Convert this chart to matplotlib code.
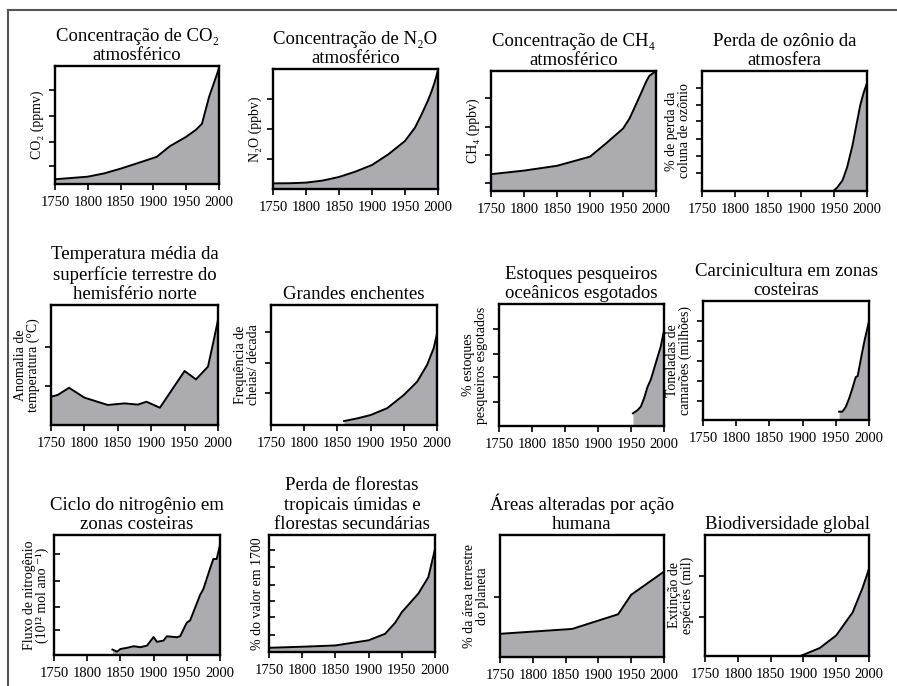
import matplotlib
matplotlib.use("Agg")
import matplotlib.pyplot as plt
from matplotlib.lines import Line2D

plt.rcParams['font.family'] = ['Liberation Serif', 'DejaVu Serif']

W, H = 897, 686

# ---------------- data (values in % of panel height) ----------------
co2_years = [1750, 1800, 1825, 1850, 1875, 1905, 1925, 1950, 1965, 1974, 1985, 2000]
co2_vals = [4, 6.2, 9, 13, 17.5, 23, 32, 40, 46, 51, 74, 98]
co2_ticks = [15, 36, 58, 80]

n2o_years = [1750, 1775, 1800, 1825, 1850, 1875, 1900, 1925, 1950, 1965, 1975, 1985, 1990, 1995, 2000]
n2o_vals = [4.7, 4.8, 5.3, 7, 10, 14.5, 20, 29, 40, 51, 62, 74, 81, 89, 99]
n2o_ticks = [25, 50, 75]

ch4_years = [1750, 1800, 1850, 1900, 1925, 1950, 1960, 1975, 1985, 1990, 2000]
ch4_vals = [14, 17, 21, 28.6, 40, 52, 60.5, 78.6, 91, 96, 100]
ch4_ticks = [6.4, 30, 53.6, 77.8]

oz_years = [1949, 1955, 1963, 1970, 1978, 1985, 1990, 1995, 2000]
oz_vals = [0, 3, 9, 20, 38, 58, 72, 82, 90]
oz_ticks = [15, 29, 43, 58, 72, 86]

temp_years = [1750, 1760, 1777, 1800, 1835, 1860, 1880, 1893, 1913, 1950, 1967, 1985, 1993, 2000]
temp_vals = [23.6, 25, 31, 22.8, 16.7, 18, 17, 19.4, 14.4, 45, 38, 48.6, 69, 87.5]
temp_ticks = [32.8, 64.7]

flood_years = [1860, 1880, 1900, 1925, 1950, 1970, 1985, 1995, 2000]
flood_vals = [3.3, 5.5, 8.3, 14, 25, 36, 50, 64, 76]
flood_ticks = [26.4, 52, 77.8]

fish_years = [1953, 1960, 1965, 1970, 1975, 1980, 1985, 1990, 1995, 2000]
fish_vals = [10.4, 13, 16, 23, 32, 38, 47, 56, 65, 78]
fish_ticks = [20, 40.5, 59, 79.5]

shrimp_years = [1955, 1960, 1965, 1970, 1975, 1980, 1983, 1988, 1993, 2000]
shrimp_vals = [7, 7, 11, 18, 26.6, 36, 37, 52, 66, 83]
shrimp_ticks = [16, 33, 50, 66.7, 83.5]

nitro_years = [1838, 1845, 1850, 1860, 1870, 1880, 1890, 1900, 1905, 1915, 1920,
               1935, 1940, 1950, 1955, 1970, 1975, 1985, 1990, 1995, 2000]
nitro_vals = [4.5, 2.8, 5, 6, 7.3, 6.5, 7.8, 15, 11, 12, 15.6,
              14.8, 15.6, 27, 28.8, 50, 55, 72, 80, 80, 91.6]
nitro_ticks = [20.6, 40, 62, 84]

forest_years = [1750, 1800, 1850, 1900, 1925, 1940, 1950, 1975, 1990, 2000]
forest_vals = [3.6, 4.5, 5.6, 10, 15.6, 25, 34, 50, 64, 88]
forest_ticks = [14.5, 30, 43.6, 57, 72.6, 87]

land_years = [1750, 1860, 1930, 1950, 2000]
land_vals = [19, 23, 35, 51, 70]
land_ticks = [49]

bio_years = [1895, 1900, 1925, 1950, 1975, 1990, 2000]
bio_vals = [0, 1, 6.6, 17, 36, 56, 72]
bio_ticks = [32, 66]

xticks = [1750, 1800, 1850, 1900, 1950, 2000]

titles = [
    "Concentração de CO\u2082\natmosférico",
    "Concentração de N\u2082O\natmosférico",
    "Concentração de CH\u2084\natmosférico",
    "Perda de ozônio da\natmosfera",
    "Temperatura média da\nsuperfície terrestre do\nhemisfério norte",
    "Grandes enchentes",
    "Estoques pesqueiros\noceânicos esgotados",
    "Carcinicultura em zonas\ncosteiras",
    "Ciclo do nitrogênio em\nzonas costeiras",
    "Perda de florestas\ntropicais úmidas e\nflorestas secundárias",
    "Áreas alteradas por ação\nhumana",
    "Biodiversidade global",
]
ylabels = [
    "CO\u2082 (ppmv)",
    "N\u2082O (ppbv)",
    "CH\u2084 (ppbv)",
    "% de perda da\ncoluna de ozônio",
    "Anomalia de\ntemperatura (°C)",
    "Frequência de\ncheias/ década",
    "% estoques\npesqueiros esgotados",
    "Toneladas de\ncamarões (milhões)",
    "Fluxo de nitrogênio\n(10\u00b9\u00b2 mol ano \u207b\u00b9)",
    "% do valor em 1700",
    "% da área terrestre\ndo planeta",
    "Extinção de\nespécies (mil)",
]
series = [
    (co2_years, co2_vals, co2_ticks),
    (n2o_years, n2o_vals, n2o_ticks),
    (ch4_years, ch4_vals, ch4_ticks),
    (oz_years, oz_vals, oz_ticks),
    (temp_years, temp_vals, temp_ticks),
    (flood_years, flood_vals, flood_ticks),
    (fish_years, fish_vals, fish_ticks),
    (shrimp_years, shrimp_vals, shrimp_ticks),
    (nitro_years, nitro_vals, nitro_ticks),
    (forest_years, forest_vals, forest_ticks),
    (land_years, land_vals, land_ticks),
    (bio_years, bio_vals, bio_ticks),
]

# ---------------- layout (pixels: left, right, top, bottom) ----------------
boxes = [
    (55, 219, 66, 184), (273, 438, 69, 189), (491, 656, 71, 191), (702, 867, 71, 191),
    (51, 218, 305, 425), (271, 437, 305, 425), (499, 664, 304, 426), (703, 869, 301, 420),
    (54, 220, 535, 655), (269, 435, 535, 652), (500, 664, 535, 657), (705, 869, 535, 656),
]
ytick_dir = ['out'] * 8 + ['in', 'in', 'out', 'out']

fig = plt.figure(figsize=(W / 100, H / 100), dpi=100)
fill_color = '#ababb0'

for i, ((l, r, t, b), (yrs, vals, yt)) in enumerate(zip(boxes, series)):
    ax = fig.add_axes([l / W, 1 - b / H, (r - l) / W, (b - t) / H])
    ax.fill_between(yrs, vals, 0, color=fill_color, linewidth=0, zorder=1)
    ax.plot(yrs, vals, color='black', linewidth=1.4, zorder=2, solid_joinstyle='round')
    ax.set_xlim(1750, 2000)
    ax.set_ylim(0, 100)
    ax.set_xticks(xticks)
    ax.set_xticklabels([str(x) for x in xticks], fontsize=10.5)
    ax.set_yticks(yt)
    ax.set_yticklabels([])
    ax.tick_params(axis='x', direction='out', length=4.5, width=1.2, pad=4)
    ax.tick_params(axis='y', direction=ytick_dir[i], length=4.5, width=1.2)
    for s in ax.spines.values():
        s.set_linewidth(1.7)
        s.set_color('black')
    ax.set_title(titles[i], fontsize=13.5, pad=4, linespacing=1.2)
    ax.set_ylabel(ylabels[i], fontsize=10, labelpad=0, linespacing=0.95)

# outer frame (top and left only)
fig.add_artist(Line2D([8 / W, 8 / W], [0, 1 - 10 / H], color='#555555', linewidth=1.5))
fig.add_artist(Line2D([8 / W, 1], [1 - 10 / H, 1 - 10 / H], color='#555555', linewidth=1.5))

fig.savefig('out.png', dpi=100)
